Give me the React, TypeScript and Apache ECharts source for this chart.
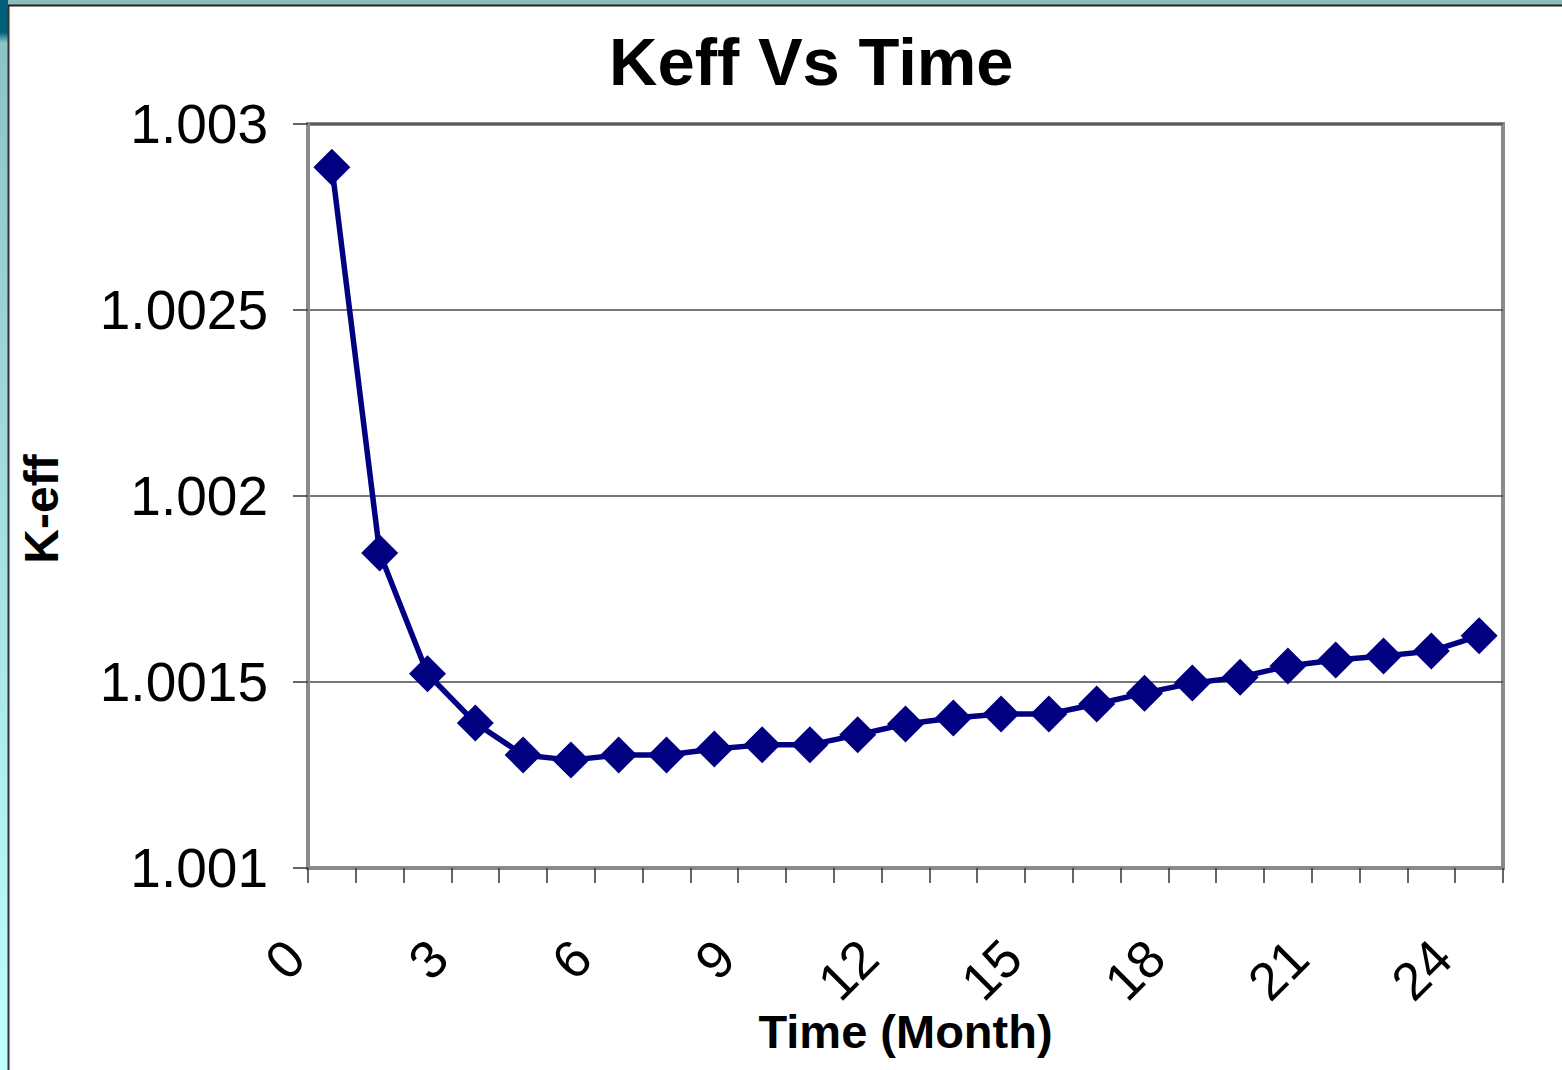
import React, { useEffect, useRef } from "react";
import * as echarts from "echarts";

const months: string[] = [
  "0", "1", "2", "3", "4", "5", "6", "7", "8", "9", "10", "11", "12",
  "13", "14", "15", "16", "17", "18", "19", "20", "21", "22", "23", "24",
];

const keff: number[] = [
  1.002884, 1.001847, 1.001522, 1.00139, 1.001304, 1.00129, 1.001304,
  1.001304, 1.00132, 1.001331, 1.001331, 1.001358, 1.001387, 1.001403,
  1.001414, 1.001414, 1.001441, 1.00147, 1.001497, 1.001513, 1.001543,
  1.001559, 1.00157, 1.001583, 1.001624,
];

const yMin = 1.001;
const yMax = 1.003;
const yStep = 0.0005;

const titleText = "Keff Vs Time";
const xName = "Time (Month)";
const yName = "K-eff";

export default function App() {
  const ref = useRef<HTMLDivElement>(null);

  useEffect(() => {
    if (!ref.current) return;
    const chart = echarts.init(ref.current, undefined, { renderer: "svg" });
    const font = "'Liberation Sans', Arial, sans-serif";
    chart.setOption({
      animation: false,
      backgroundColor: "#ffffff",
      textStyle: { fontFamily: font },
      title: {
        text: titleText,
        left: 604,
        top: 23,
        textStyle: {
          fontFamily: font,
          fontSize: 67,
          fontWeight: "bold",
          color: "#000000",
        },
      },
      graphic: [
        {
          type: "rect",
          shape: { x: 0, y: 0, width: 1562, height: 5 },
          style: { fill: "#8cbcbc" },
          silent: true,
        },
        {
          type: "rect",
          shape: { x: 0, y: 0, width: 8, height: 1070 },
          style: {
            fill: new echarts.graphic.LinearGradient(0, 0, 0, 1, [
              { offset: 0, color: "#00607a" },
              { offset: 0.03, color: "#00607a" },
              { offset: 0.04, color: "#8cc4c6" },
              { offset: 1, color: "#c0ffff" },
            ]),
          },
          silent: true,
        },
        {
          type: "line",
          shape: { x1: 8.5, y1: 5, x2: 8.5, y2: 1070 },
          style: { stroke: "#333333", lineWidth: 2 },
          silent: true,
        },
        {
          type: "line",
          shape: { x1: 8, y1: 5.5, x2: 1562, y2: 5.5 },
          style: { stroke: "#222222", lineWidth: 2 },
          silent: true,
        },
      ],
      grid: {
        left: 308,
        right: 59,
        top: 124,
        bottom: 202,
        show: true,
        backgroundColor: "#ffffff",
        borderColor: "#8a8a8a",
        borderWidth: 4,
      },
      xAxis: {
        type: "category",
        data: months,
        boundaryGap: true,
        name: xName,
        nameLocation: "middle",
        nameGap: 140,
        nameMoveOverlap: false,
        nameTextStyle: {
          fontFamily: font,
          fontSize: 47,
          fontWeight: "bold",
          color: "#000000",
        },
        axisLine: { show: true, lineStyle: { color: "#8a8a8a", width: 4 } },
        axisTick: {
          show: true,
          interval: 0,
          alignWithLabel: false,
          length: 15,
          lineStyle: { color: "#333333", width: 1.5 },
        },
        axisLabel: {
          interval: 2,
          rotate: 45,
          margin: 44,
          padding: [0, 52, 0, 0],
          fontFamily: font,
          fontSize: 53,
          color: "#000000",
        },
        splitLine: { show: false },
      },
      yAxis: {
        type: "value",
        min: yMin,
        max: yMax,
        interval: yStep,
        name: yName,
        nameLocation: "middle",
        nameGap: 243,
        nameRotate: 90,
        nameMoveOverlap: false,
        nameTextStyle: {
          fontFamily: font,
          fontSize: 48,
          fontWeight: "bold",
          color: "#000000",
          padding: [0, 26, 0, 0],
        },
        axisLine: { show: true, lineStyle: { color: "#8a8a8a", width: 4 } },
        axisTick: {
          show: true,
          length: 15,
          lineStyle: { color: "#333333", width: 1.5 },
        },
        axisLabel: {
          margin: 40,
          fontFamily: font,
          fontSize: 55,
          color: "#000000",
          formatter: (v: number) => String(+v.toFixed(4)),
        },
        splitLine: {
          show: true,
          lineStyle: { color: "#4a4a4a", width: 1.5 },
        },
      },
      series: [
        {
          type: "line",
          data: keff,
          symbol: "diamond",
          symbolSize: 37,
          showAllSymbol: true,
          lineStyle: { color: "#000080", width: 5.5 },
          itemStyle: { color: "#000080" },
        },
      ],
    });
    return () => chart.dispose();
  }, []);

  return (
    <div
      ref={ref}
      style={{
        position: "absolute",
        left: 0,
        top: 0,
        width: 1562,
        height: 1070,
      }}
    />
  );
}
